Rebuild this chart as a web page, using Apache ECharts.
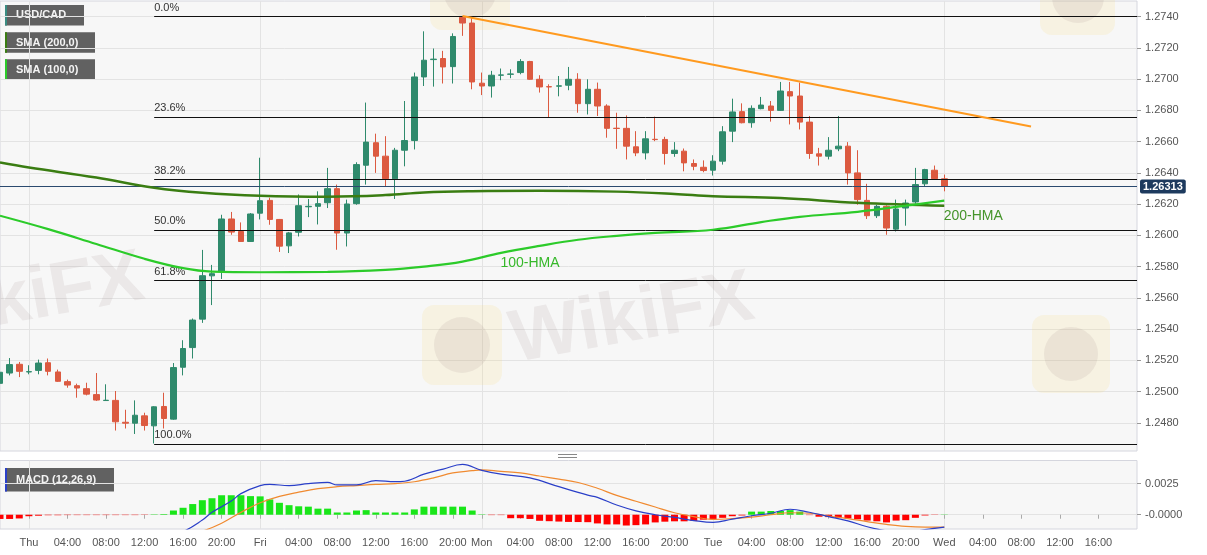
<!DOCTYPE html>
<html><head><meta charset="utf-8">
<script src="https://cdn.jsdelivr.net/npm/echarts@6/dist/echarts.min.js"></script>
<style>html,body{margin:0;padding:0;background:#fff}#c{width:1207px;height:555px}</style>
</head><body><div id="c"></div><script>
// ---- hourly slots (weekend skipped) ----
const slotRanges = [['Wed',21,23],['Thu',0,23],['Fri',0,20],['Sun',22,23],['Mon',0,23],['Tue',0,23],['Wed',0,20]];
const categories = [];
slotRanges.forEach(([d,a,b]) => { for (let h=a; h<=b; h++) categories.push(d+' '+String(h).padStart(2,'0')+':00'); });
const lastLabelIndex = 114;

// ---- candles: [open, close, low, high] ----
const candles = [
[1.25053,1.25124,1.25040,1.25143],[1.25119,1.25173,1.25104,1.25215],[1.25175,1.25130,1.25093,1.25190],[1.25126,1.25128,1.25111,1.25169],
[1.25136,1.25183,1.25111,1.25205],[1.25185,1.25130,1.25104,1.25212],[1.25126,1.25066,1.25062,1.25141],[1.25064,1.25042,1.25025,1.25077],
[1.25038,1.25023,1.24961,1.25051],[1.25019,1.24984,1.24976,1.25057],[1.24981,1.24946,1.24940,1.25119],[1.24943,1.24945,1.24940,1.25047],
[1.24944,1.24807,1.24751,1.25004],[1.24804,1.24798,1.24764,1.24884],[1.24798,1.24849,1.24729,1.24944],[1.24845,1.24783,1.24751,1.24865],
[1.24781,1.24903,1.24668,1.24907],[1.24905,1.24828,1.24764,1.24993],[1.24824,1.25154,1.24820,1.25183],[1.25156,1.25276,1.25104,1.25329],
[1.25282,1.25458,1.25212,1.25468],[1.25464,1.25742,1.25440,1.25907],[1.25741,1.25755,1.25554,1.25811],[1.25768,1.26105,1.25721,1.26132],
[1.26105,1.26021,1.26004,1.26150],[1.26025,1.25961,1.25959,1.26083],[1.25961,1.26137,1.25959,1.26143],[1.26142,1.26222,1.26102,1.26497],
[1.26224,1.26102,1.26068,1.26241],[1.26102,1.25931,1.25894,1.26105],[1.25933,1.26016,1.25887,1.26022],[1.26020,1.26190,1.25993,1.26262],
[1.26183,1.26186,1.26117,1.26233],[1.26186,1.26203,1.26070,1.26282],[1.26209,1.26299,1.26175,1.26432],[1.26299,1.26015,1.25908,1.26325],
[1.26015,1.26201,1.25929,1.26229],[1.26203,1.26453,1.26196,1.26468],[1.26449,1.26597,1.26325,1.26850],[1.26593,1.26507,1.26400,1.26651],
[1.26507,1.26363,1.26314,1.26635],[1.26362,1.26545,1.26233,1.26560],[1.26545,1.26607,1.26442,1.26860],[1.26607,1.27014,1.26550,1.27042],
[1.27014,1.27121,1.26956,1.27306],[1.27125,1.27128,1.26952,1.27196],[1.27132,1.27078,1.26972,1.27181],[1.27080,1.27273,1.26972,1.27293],
[1.27395,1.27359,1.27277,1.27404],[1.27359,1.26982,1.26935,1.27395],[1.26974,1.26956,1.26898,1.27042],[1.26956,1.27025,1.26882,1.27053],
[1.27025,1.27027,1.26993,1.27068],[1.27031,1.27033,1.27006,1.27063],[1.27042,1.27113,1.27031,1.27128],[1.27113,1.26999,1.26995,1.27117],
[1.26999,1.26950,1.26914,1.27025],[1.26952,1.26950,1.26753,1.26967],[1.26955,1.26957,1.26890,1.27020],[1.26961,1.26999,1.26929,1.27078],
[1.26999,1.26843,1.26785,1.27038],[1.26843,1.26935,1.26774,1.26999],[1.26935,1.26828,1.26764,1.26978],[1.26828,1.26685,1.26625,1.26839],
[1.26686,1.26684,1.26554,1.26785],[1.26685,1.26571,1.26486,1.26768],[1.26567,1.26528,1.26507,1.26667],[1.26528,1.26618,1.26486,1.26667],
[1.26615,1.26613,1.26603,1.26760],[1.26614,1.26524,1.26453,1.26631],[1.26524,1.26545,1.26503,1.26597],[1.26539,1.26464,1.26410,1.26556],
[1.26460,1.26442,1.26417,1.26486],[1.26436,1.26415,1.26404,1.26480],[1.26417,1.26475,1.26383,1.26513],[1.26475,1.26663,1.26453,1.26699],
[1.26667,1.26790,1.26597,1.26875],[1.26792,1.26721,1.26717,1.26845],[1.26721,1.26813,1.26689,1.26832],[1.26811,1.26834,1.26807,1.26886],
[1.26828,1.26800,1.26728,1.26860],[1.26800,1.26924,1.26796,1.26982],[1.26920,1.26892,1.26710,1.26982],[1.26892,1.26725,1.26678,1.26978],
[1.26725,1.26524,1.26490,1.26764],[1.26522,1.26507,1.26447,1.26560],[1.26507,1.26545,1.26486,1.26629],[1.26554,1.26571,1.26539,1.26764],
[1.26571,1.26400,1.26325,1.26597],[1.26400,1.26229,1.26196,1.26545],[1.26224,1.26126,1.26105,1.26330],[1.26126,1.26186,1.26111,1.26196],
[1.26186,1.26047,1.26004,1.26192],[1.26040,1.26169,1.26025,1.26229],[1.26175,1.26207,1.26062,1.26229],[1.26214,1.26325,1.26203,1.26432],
[1.26330,1.26421,1.26314,1.26426],[1.26417,1.26363,1.26357,1.26447],[1.26362,1.26313,1.26282,1.26389]
];

// ---- moving averages: [slot index, value] ----
const sma200 = [[0,1.26466],[3,1.26434],[10,1.26370],[16,1.26305],[21,1.26273],[27,1.26254],[34,1.26248],[40,1.26258],[44,1.26275],[49,1.26283],[56,1.26286],[64,1.26280],[70,1.26265],[74,1.26250],[81,1.26239],[89,1.26209],[98,1.26190]];
const sma100 = [[0,1.26126],[5,1.26040],[10,1.25945],[15,1.25850],[19,1.25790],[22,1.25768],[27,1.25764],[34,1.25766],[40,1.25779],[44,1.25800],[48,1.25832],[52,1.25888],[56,1.25933],[60,1.25972],[64,1.25997],[68,1.26016],[74,1.26036],[79,1.26085],[83,1.26119],[89,1.26151],[94,1.26190],[98,1.26222]];
const trendLine = [[48,1.27404],[107,1.26697]];

// ---- Fibonacci retracement ----
const fibNames = ['0.0%','23.6%','38.2%','50.0%','61.8%','100.0%'];
const fibPrices = [1.27404,1.26758,1.26358,1.26035,1.25712,1.24666];
const fibStart = 16;
const lastPrice = 1.26313;

// ---- MACD (12,26,9) ----
const macdHist = [
-0.00034,-0.00034,-0.00030,-0.00012,-0.00008,-0.00004,-0.00004,-0.00003,-0.00003,-0.00003,-0.00003,-0.00003,-0.00003,-0.00003,-0.00003,-0.00002,
0.00003,0.00005,0.00034,0.00056,0.00086,0.00117,0.00133,0.00157,0.00157,0.00157,0.00150,0.00148,0.00123,0.00096,0.00077,0.00068,
0.00065,0.00049,0.00049,0.00018,0.00018,0.00034,0.00037,0.00018,0.00018,0.00018,0.00018,0.00043,0.00065,0.00065,0.00065,0.00065,
0.00065,0.00034,0.00003,-0.00003,-0.00003,-0.00028,-0.00028,-0.00034,-0.00049,-0.00052,-0.00055,-0.00058,-0.00059,-0.00060,-0.00070,-0.00078,
-0.00078,-0.00087,-0.00084,-0.00078,-0.00062,-0.00056,-0.00053,-0.00053,-0.00050,-0.00040,-0.00037,-0.00025,-0.00012,-0.00006,0.00025,0.00025,
0.00030,0.00030,0.00037,0.00025,-0.00003,-0.00016,-0.00019,-0.00025,-0.00030,-0.00037,-0.00047,-0.00053,-0.00062,-0.00047,-0.00044,-0.00025,
-0.00006,-0.00002,0.00002
];
const macdLine = [[0,-0.00182],[3,-0.00192],[8,-0.00195],[12,-0.00198],[15,-0.00198],[17,-0.00182],[19,-0.00136],[21,-0.00043],[22,0.00019],[24,0.00110],[25,0.00170],[27,0.00235],[28,0.00244],[30,0.00235],[32,0.00250],[34,0.00260],[35,0.00240],[37,0.00240],[39,0.00275],[41,0.00266],[42,0.00270],[44,0.00327],[46,0.00368],[48,0.00405],[50,0.00358],[52,0.00327],[55,0.00297],[58,0.00226],[61,0.00158],[62,0.00140],[64,0.00078],[66,0.00031],[68,0.00000],[70,-0.00022],[72,-0.00047],[74,-0.00062],[76,-0.00035],[78,-0.00008],[80,0.00012],[82,0.00044],[84,0.00020],[86,-0.00015],[88,-0.00050],[90,-0.00097],[92,-0.00130],[94,-0.00144],[96,-0.00120],[98,-0.00100]];
const signalLine = [[0,-0.00136],[3,-0.00164],[8,-0.00182],[12,-0.00192],[15,-0.00198],[17,-0.00195],[19,-0.00176],[21,-0.00133],[23,-0.00068],[25,0.00019],[27,0.00096],[29,0.00148],[31,0.00182],[33,0.00210],[35,0.00226],[37,0.00235],[39,0.00244],[41,0.00250],[43,0.00266],[45,0.00297],[47,0.00337],[49,0.00355],[50,0.00362],[52,0.00349],[54,0.00337],[56,0.00312],[58,0.00287],[60,0.00260],[62,0.00213],[64,0.00156],[66,0.00109],[68,0.00062],[70,0.00016],[72,-0.00016],[74,-0.00037],[76,-0.00031],[78,-0.00019],[80,0.00000],[82,0.00016],[84,0.00012],[86,-0.00010],[88,-0.00031],[90,-0.00056],[92,-0.00078],[94,-0.00094],[96,-0.00100],[98,-0.00100]];

// ---- axis tick labels ----
const priceTicks = [1.2480,1.2500,1.2520,1.2540,1.2560,1.2580,1.2600,1.2620,1.2640,1.2660,1.2680,1.2700,1.2720,1.2740];
const macdTicks = [0, 0.0025];

// helpers
const hourOf = i => parseInt(categories[i].split(' ')[1]);
const dayOf = i => categories[i].split(' ')[0];
const isDayStart = i => hourOf(i) === 0;
const xLabelOf = i => {
  if (i > lastLabelIndex) return '';
  const h = hourOf(i);
  if (h === 0) return dayOf(i);
  if (h % 4 === 0) return String(h).padStart(2,'0') + ':00';
  return '';
};
const toXY = arr => arr.map(([i,v]) => [categories[i], v]);

const GREEN = '#2f8a6c', RED = '#dc5a40';
const FONT = 'Liberation Sans, Arial, sans-serif';

const fibMarks = fibPrices.map((v,k) => [
  {coord:[categories[fibStart], v], name: fibNames[k]},
  {coord:[categories[categories.length-1], v]}
]);
const priceMark = [
  {coord:[categories[0], lastPrice], name:'1.26313'},
  {coord:[categories[categories.length-1], lastPrice]}
];

const chart = echarts.init(document.getElementById('c'), null, {renderer:'canvas'});
const gridSplit = {show:true, lineStyle:{color:'#e3e3e3', width:1}};

function legendBox(y, w, h, stripe, text) {
  return {type:'group', z:10, children:[
    {type:'rect', shape:{x:5, y:y, width:w, height:h}, style:{fill:'#616161'}},
    {type:'rect', shape:{x:5, y:y, width:2, height:h}, style:{fill:stripe}},
    {type:'text', x:16, y:y+h/2, style:{text:text, fill:'#f4f4f4', font:'bold 11px '+FONT, textVerticalAlign:'middle'}}
  ]};
}
const wm = 'rgba(150,125,125,0.12)';
const logo = 'rgba(250,215,110,0.15)';

chart.setOption({
  animation:false,
  backgroundColor:'#ffffff',
  textStyle:{fontFamily:FONT},
  grid:[
    {left:0, top:1, width:1137, height:450, show:true, backgroundColor:'#f7f7f7', borderColor:'#d5d6de', borderWidth:1},
    {left:0, top:460.5, width:1137, height:68.5, show:true, backgroundColor:'#f7f7f7', borderColor:'#d5d6de', borderWidth:1}
  ],
  xAxis:[
    {type:'category', gridIndex:0, data:categories, boundaryGap:false,
     axisLine:{show:false}, axisTick:{show:false}, axisLabel:{show:false},
     splitLine:Object.assign({interval:(i)=>isDayStart(i)}, gridSplit)},
    {type:'category', gridIndex:1, data:categories, boundaryGap:false,
     axisLine:{show:false},
     axisTick:{show:true, length:4, interval:(i)=>xLabelOf(i)!=='', lineStyle:{color:'#aaa'}},
     axisLabel:{show:true, interval:(i)=>xLabelOf(i)!=='', formatter:(v,i)=>xLabelOf(i), color:'#555', fontSize:11, margin:8},
     splitLine:Object.assign({interval:(i)=>isDayStart(i)}, gridSplit)}
  ],
  yAxis:[
    {type:'value', gridIndex:0, position:'right', min:1.2462, max:1.2750,
     axisLine:{show:false},
     axisTick:{show:true, length:4, customValues:priceTicks, lineStyle:{color:'#999'}},
     axisLabel:{customValues:priceTicks, formatter:v=>v.toFixed(4), color:'#555', fontSize:11, margin:8},
     splitLine:gridSplit},
    {type:'value', gridIndex:1, position:'right', min:-0.00115, max:0.00437,
     axisLine:{show:false},
     axisTick:{show:true, length:4, customValues:macdTicks, lineStyle:{color:'#999'}},
     axisLabel:{customValues:macdTicks, formatter:v=>Math.abs(v)<1e-9?'-0.0000':v.toFixed(4), color:'#555', fontSize:11, margin:8},
     splitLine:gridSplit}
  ],
  series:[
    {type:'candlestick', name:'USD/CAD', xAxisIndex:0, yAxisIndex:0, data:candles, barWidth:6, z:2,
     itemStyle:{color:GREEN, color0:RED, borderColor:GREEN, borderColor0:RED, borderWidth:1}},
    {type:'line', name:'SMA (200,0)', xAxisIndex:0, yAxisIndex:0, data:toXY(sma200), smooth:0.4, symbol:'none', z:4,
     lineStyle:{color:'#3a7d12', width:2.5},
     markPoint:{symbol:'rect', symbolSize:0, data:[{coord:[categories[101],1.26120]}],
       label:{show:true, position:'inside', formatter:'200-HMA', color:'#45942a', fontSize:14}}},
    {type:'line', name:'SMA (100,0)', xAxisIndex:0, yAxisIndex:0, data:toXY(sma100), smooth:0.4, symbol:'none', z:4,
     lineStyle:{color:'#2ccb2a', width:2.2},
     markPoint:{symbol:'rect', symbolSize:0, data:[{coord:[categories[55],1.25823]}],
       label:{show:true, position:'inside', formatter:'100-HMA', color:'#36b82a', fontSize:14}}},
    {type:'line', name:'Trend', xAxisIndex:0, yAxisIndex:0, data:toXY(trendLine), symbol:'none', z:5,
     lineStyle:{color:'#ff9a1f', width:2},
     markLine:{silent:true, symbol:['none','none'], animation:false, z:3,
       lineStyle:{color:'#111', width:1, type:'solid'},
       label:{show:true, position:'insideStartTop', formatter:'{b}', color:'#333', fontSize:11, distance:[0,3]},
       data: fibMarks.concat([
         [Object.assign({}, priceMark[0], {
            lineStyle:{color:'#2b4a6f', width:1, type:'solid'},
            label:{show:true, position:'end', formatter:'1.26313', backgroundColor:'#1d3a5e', color:'#fff', fontWeight:'bold', fontSize:11, padding:[2,3,1,3], borderRadius:2, distance:3}}),
          priceMark[1]]
       ])
     }},
    {type:'bar', name:'Hist', xAxisIndex:1, yAxisIndex:1, data:macdHist, barWidth:7, z:2,
     itemStyle:{color:p => p.value >= 0 ? '#19e619' : '#ff0000'}},
    {type:'line', name:'MACD', xAxisIndex:1, yAxisIndex:1, data:toXY(macdLine), smooth:0.4, symbol:'none', z:4,
     lineStyle:{color:'#2a3fc8', width:1.2}},
    {type:'line', name:'Signal', xAxisIndex:1, yAxisIndex:1, data:toXY(signalLine), smooth:0.4, symbol:'none', z:3,
     lineStyle:{color:'#f08a30', width:1.2}}
  ],
  graphic:[
    // watermarks
    {type:'rect', z:1, silent:true, shape:{x:422, y:305, width:80, height:80, r:12}, style:{fill:logo}},
    {type:'circle', z:1, silent:true, shape:{cx:462, cy:345, r:28}, style:{fill:wm}},
    {type:'rect', z:1, silent:true, shape:{x:1032, y:315, width:78, height:78, r:12}, style:{fill:logo}},
    {type:'circle', z:1, silent:true, shape:{cx:1071, cy:354, r:27}, style:{fill:wm}},
    {type:'rect', z:1, silent:true, shape:{x:430, y:-45, width:80, height:75, r:12}, style:{fill:logo}},
    {type:'circle', z:1, silent:true, shape:{cx:470, cy:-8, r:26}, style:{fill:wm}},
    {type:'rect', z:1, silent:true, shape:{x:1040, y:-40, width:75, height:75, r:12}, style:{fill:logo}},
    {type:'circle', z:1, silent:true, shape:{cx:1078, cy:-3, r:26}, style:{fill:wm}},
    {type:'text', z:1, silent:true, x:632, y:320, rotation:0.18, style:{text:'WikiFX', font:'bold 74px '+FONT, fill:wm, textAlign:'center', textVerticalAlign:'middle'}},
    {type:'text', z:1, silent:true, x:22, y:300, rotation:0.18, style:{text:'WikiFX', font:'bold 74px '+FONT, fill:wm, textAlign:'center', textVerticalAlign:'middle'}},
    // legend boxes
    legendBox(5, 79, 20.5, '#3a8c82', 'USD/CAD'),
    legendBox(32.3, 90, 20.5, '#3a7d12', 'SMA (200,0)'),
    legendBox(59.3, 90, 20.5, '#2ccb2a', 'SMA (100,0)'),
    legendBox(468, 109, 23.5, '#2a3fc8', 'MACD (12,26,9)'),
    // pane separator
    {type:'line', z:10, shape:{x1:558, y1:454.5, x2:577, y2:454.5}, style:{stroke:'#888', lineWidth:1}},
    {type:'line', z:10, shape:{x1:558, y1:457.5, x2:577, y2:457.5}, style:{stroke:'#888', lineWidth:1}}
  ]
});
</script></body></html>
